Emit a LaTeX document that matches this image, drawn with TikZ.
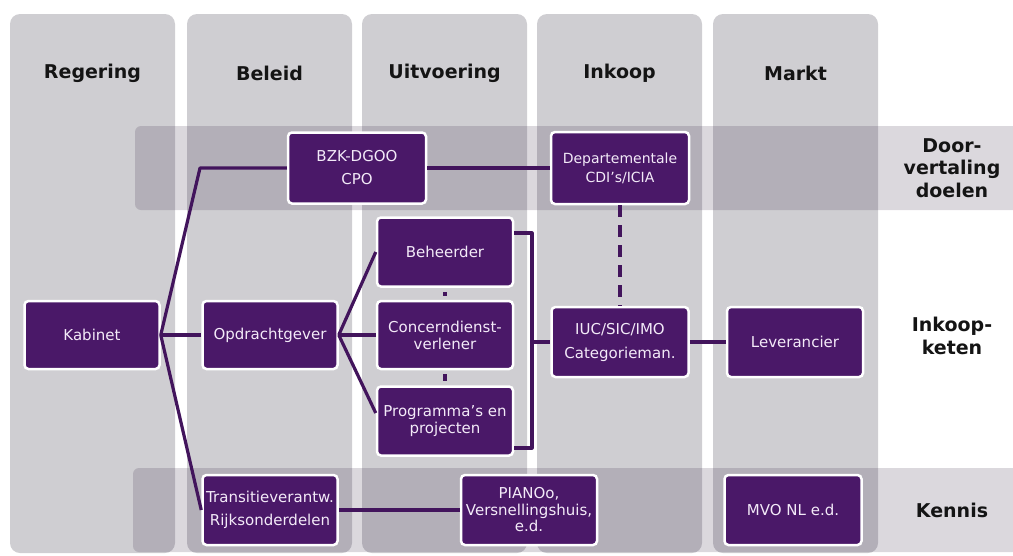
\documentclass[tikz,border=0pt]{standalone}
\usepackage{fontspec}
\setmainfont{DejaVu Sans}
\definecolor{colgray}{HTML}{CFCED2}
\definecolor{bandc}{HTML}{2A1838}
\definecolor{boxpurple}{HTML}{4A1868}
\definecolor{boxtext}{HTML}{F3EAF8}
\definecolor{linepurple}{HTML}{42145C}
\begin{document}
\begin{tikzpicture}[x=1pt,y=-1pt,
  column/.style={fill=colgray, rounded corners=10pt},
  band/.style={fill=bandc, opacity=0.17, rounded corners=6pt},
  hdr/.style={font=\bfseries\fontsize{19}{22.5}\selectfont, text=black!92, align=center},
  box/.style={rectangle, rounded corners=4pt, fill=boxpurple, draw=white,
    line width=2.5pt, text=boxtext, align=center, minimum width=136pt,
    minimum height=69pt, inner sep=1pt, font=\fontsize{15}{17}\selectfont},
  conn/.style={draw=linepurple, line width=3.2pt, line join=round},
  dashconn/.style={conn, dash pattern=on 12pt off 8pt}
]
\useasboundingbox (0,0) rectangle (1013,555);

% lanes and horizontal bands
\begin{scope}
  \clip (0,0) rectangle (1013,555);
  \foreach \x in {10,187,362,537,713}
    \fill[column] (\x,14) rectangle ++(165,539);
  \fill[band] (135,126) rectangle (1040,210);
  \fill[band] (133,468) rectangle (1040,552);
\end{scope}

% lane headers
\node[hdr] (hReg) at (92.5,73)  {Regering};
\node[hdr] (hBel) at (269.5,73) {Beleid};
\node[hdr] (hUit) at (444.5,73) {Uitvoering};
\node[hdr] (hInk) at (619.5,73) {Inkoop};
\node[hdr] (hMar) at (795.5,73) {Markt};

% band labels
\node[hdr] (lDoor) at (952,168) {Door-\\vertaling\\doelen};
\node[hdr] (lKet)  at (952,336) {Inkoop-\\keten};
\node[hdr] (lKen)  at (952,510) {Kennis};

% actors
\node[box, minimum width=138pt, minimum height=71pt,
  font=\fontsize{15}{23}\selectfont] (bzk) at (357,168) {BZK-DGOO\\CPO};
\node[box, minimum width=138pt, minimum height=72pt,
  font=\fontsize{14}{19}\selectfont] (dep) at (620,168) {Departementale\\CDI’s/ICIA};
\node[box] (beh) at (445,252) {Beheerder};
\node[box, minimum height=68pt] (con) at (445,335) {Concerndienst-\\verlener};
\node[box] (prog) at (445,421) {Programma’s en\\projecten};
\node[box, minimum width=135pt, minimum height=68pt] (kab) at (92,335) {Kabinet};
\node[box, minimum width=135pt, minimum height=68pt] (opd) at (270,335) {Opdrachtgever};
\node[box, minimum width=137pt, minimum height=70pt,
  font=\fontsize{15}{24}\selectfont] (iuc) at (620,342) {IUC/SIC/IMO\\Categorieman.};
\node[box, minimum height=70pt] (lev) at (795,342) {Leverancier};
\node[box, minimum width=135pt, minimum height=70pt,
  font=\fontsize{15}{23}\selectfont] (tra) at (270,510) {Transitieverantw.\\Rijksonderdelen};
\node[box, minimum height=70pt,
  font=\fontsize{15}{16.5}\selectfont] (pia) at (529,510) {PIANOo,\\Versnellingshuis,\\e.d.};
\node[box, minimum width=137pt, minimum height=70pt] (mvo) at (793,510) {MVO NL e.d.};

% helper points
\coordinate (kbend) at (200,168);
\coordinate (bt) at (532,233);
\coordinate (bm) at (532,342);
\coordinate (bb) at (532,448);

% connectors
\draw[conn] (kab.east) -- (kbend) -- (bzk.west);
\draw[conn] (kab.east) -- (opd.west);
\draw[conn] (kab.east) -- (tra.west);
\draw[conn] (opd.east) -- (beh.west);
\draw[conn] (opd.east) -- (con.west);
\draw[conn] (opd.east) -- ([yshift=8pt]prog.west);
\draw[conn, shorten <=4pt, shorten >=4pt] (beh.south) -- (con.north);
\draw[conn, shorten <=4pt, shorten >=4pt] (con.south) -- (prog.north);
\draw[conn] (beh.east |- bt) -- (bt) -- (bb) -- (prog.east |- bb);
\draw[conn] (bm) -- (iuc.west);
\draw[conn] (bzk.east) -- (dep.west);
\draw[dashconn] (dep.south) -- (iuc.north);
\draw[conn] (iuc.east) -- (lev.west);
\draw[conn] (tra.east) -- (pia.west);
\end{tikzpicture}
\end{document}
